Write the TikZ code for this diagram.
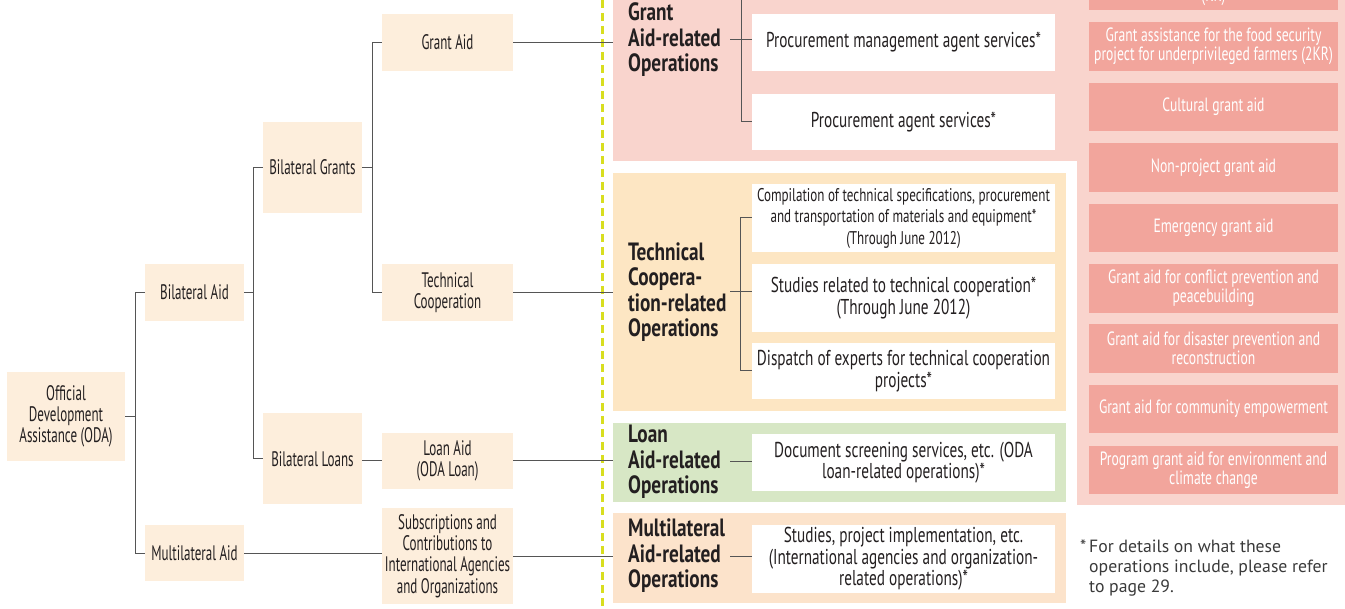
\documentclass[tikz,border=0pt]{standalone}
\usepackage{fontspec}
\setmainfont[FakeStretch=0.71,BoldFeatures={FakeStretch=0.77}]{PT Sans}
\newfontfamily\boxfont[FakeStretch=0.62]{PT Sans}
\newfontfamily\notefont{PT Sans}
\definecolor{peach}{HTML}{FDEEDC}
\definecolor{grantbg}{HTML}{F9D4CD}
\definecolor{techbg}{HTML}{FDE6C3}
\definecolor{loanbg}{HTML}{D7E7C5}
\definecolor{multibg}{HTML}{FCE3CB}
\definecolor{salmon}{HTML}{F2A59C}
\definecolor{dashyellow}{HTML}{D8DE1F}
\definecolor{ink}{HTML}{231F20}
\definecolor{notegray}{HTML}{3A3A3A}
\definecolor{wirecol}{HTML}{555555}
\begin{document}
\begin{tikzpicture}[x=1pt,y=-1pt,
  every node/.style={font=\fontsize{21.5}{21.5}\selectfont,text=ink,align=center,inner sep=0pt},
  sbox/.style={fill=peach,minimum width=99pt,font=\boxfont\fontsize{21}{21.3}\selectfont},
  wbox/.style={fill=peach,minimum width=131pt,font=\boxfont\fontsize{21}{21.3}\selectfont},
  svc/.style={fill=white,minimum width=303pt},
  ops/.style={minimum width=453pt},
  opslabel/.style={font=\bfseries\fontsize{25}{25.5}\selectfont,align=left,text width=102pt,anchor=west},
  aidbox/.style={fill=salmon,minimum width=249pt,minimum height=48.5pt,text=white,font=\fontsize{19.2}{19}\selectfont},
  wire/.style={draw=wirecol,line width=1pt}
]
\useasboundingbox (0,0) rectangle (1345,609);
\clip (0,0) rectangle (1345,609);

\fill[grantbg] (1077,-10) rectangle (1350,505);
\node[ops,fill=grantbg,minimum width=465pt,minimum height=191pt] (gops) at (845.5,65.5) {};
\node[ops,fill=techbg,minimum height=238pt] (tops) at (839.5,292) {};
\node[ops,fill=loanbg,minimum height=79pt] (lops) at (839.5,462.5) {};
\node[ops,fill=multibg,minimum height=90pt] (mops) at (839.5,558) {};
\draw[dashyellow,line width=3pt,dash pattern=on 8pt off 5pt] (602,0) -- (602,606);

\node[sbox,minimum width=118pt,minimum height=89pt] (oda) at (66,416.5) {Official\\Development\\Assistance (ODA)};
\node[sbox,minimum height=57pt] (bilat) at (194.5,292.5) {Bilateral Aid};
\node[sbox,minimum height=56pt] (multi) at (194.5,553) {Multilateral Aid};
\node[sbox,minimum height=91pt] (bgrants) at (312.5,167.5) {Bilateral Grants};
\node[sbox,minimum height=91pt] (bloans) at (312.5,459) {Bilateral Loans};
\node[wbox,minimum height=57pt] (grant) at (447.5,42.5) {Grant Aid};
\node[wbox,minimum height=57pt] (tech) at (447.5,292.5) {Technical\\Cooperation};
\node[wbox,minimum height=56pt] (loan) at (447.5,461) {Loan Aid\\(ODA Loan)};
\node[wbox,minimum height=96pt] (subs) at (447.5,556) {Subscriptions and\\Contributions to\\International Agencies\\and Organizations};

\node[opslabel] (glab) at (628,40) {Grant\\Aid-related\\Operations};
\node[opslabel] (tlab) at (628,292) {Technical\\Coopera-\\tion-related\\Operations};
\node[opslabel] (llab) at (628,462) {Loan\\Aid-related\\Operations};
\node[opslabel] (mlab) at (628,556) {Multilateral\\Aid-related\\Operations};

\node[svc,minimum height=57pt] (pmas) at (903.5,42.5) {Procurement management agent services*};
\node[svc,minimum height=56pt] (pas) at (903.5,122) {Procurement agent services*};
\node[svc,minimum height=68pt,font=\fontsize{18.4}{21.5}\selectfont] (comp) at (903.5,218) {Compilation of technical specifications, procurement\\and transportation of materials and equipment*\\(Through June 2012)};
\node[svc,minimum height=68pt] (stud) at (903.5,298) {Studies related to technical cooperation*\\(Through June 2012)};
\node[svc,minimum height=56pt] (disp) at (903.5,371) {Dispatch of experts for technical cooperation\\projects*};
\node[svc,minimum height=57pt] (doc) at (903.5,462.5) {Document screening services, etc. (ODA\\loan-related operations)*};
\node[svc,minimum height=68pt] (mstud) at (903.5,559) {Studies, project implementation, etc.\\(International agencies and organization-\\related operations)*};

\node[aidbox] (kra) at (1213.5,-14) {};
\node[text=white,font=\fontsize{19.2}{19}\selectfont,anchor=base] (krb) at (1213.5,2) {(KR)};
\node[aidbox] (kr2) at (1213.5,46.5) {Grant assistance for the food security\\project for underprivileged farmers (2KR)};
\node[aidbox] (cult) at (1213.5,107) {Cultural grant aid};
\node[aidbox] (nonp) at (1213.5,167.5) {Non-project grant aid};
\node[aidbox] (emer) at (1213.5,228) {Emergency grant aid};
\node[aidbox] (conf) at (1213.5,288.5) {Grant aid for conflict prevention and\\peacebuilding};
\node[aidbox] (disa) at (1213.5,348.5) {Grant aid for disaster prevention and\\reconstruction};
\node[aidbox] (comm) at (1213.5,409) {Grant aid for community empowerment};
\node[aidbox] (envi) at (1213.5,470) {Program grant aid for environment and\\climate change};

\node[font=\notefont\fontsize{17.7}{20}\selectfont,align=left,anchor=north west,text=notegray] (note) at (1089,540) {\llap{*\,}For details on what these\\operations include, please refer\\to page 29.};

\draw[wire] (oda.east) -- ++(10,0) |- (bilat.west);
\draw[wire] (oda.east) -- ++(10,0) |- (multi.west);
\draw[wire] (bilat.east) -- ++(9,0) |- (bgrants.west);
\draw[wire] (bilat.east) -- ++(9,0) |- (bloans.west);
\draw[wire] (bgrants.east) -- ++(10,0) |- (grant.west);
\draw[wire] (bgrants.east) -- ++(10,0) |- (tech.west);
\draw[wire] (loan.west -| bloans.east) -- (loan.west);
\draw[wire] (multi.east) -- (multi.east -| subs.west);
\draw[wire] (grant.east) -- (grant.east -| gops.west);
\draw[wire] (tech.east) -- (tech.east -| tops.west);
\draw[wire] (loan.east) -- (loan.east -| lops.west);
\draw[wire] (subs.east) -- (subs.east -| mops.west);

\coordinate (gspine) at (741,-10);
\draw[wire] (glab.east) -- (glab.east -| pmas.west);
\draw[wire] (gspine) |- (pas.west);
\draw[wire] (comp.west) -- ++(-11,0) |- (disp.west);
\draw[wire] (tlab.east) -- (tlab.east -| stud.west);
\draw[wire] (llab.east) -- (llab.east -| doc.west);
\draw[wire] (mlab.east) -- (mlab.east -| mstud.west);
\end{tikzpicture}
\end{document}
